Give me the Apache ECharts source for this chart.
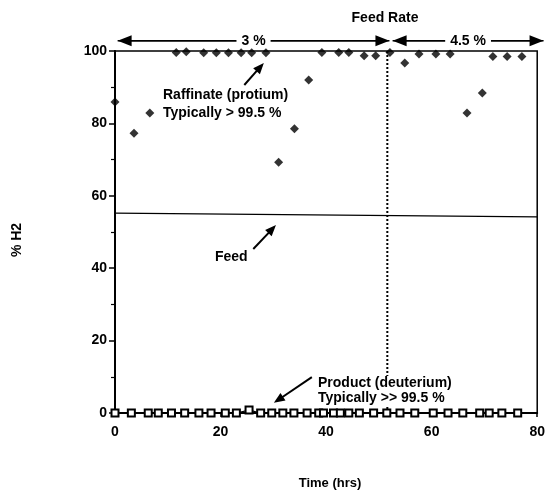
<!DOCTYPE html>
<html><head><meta charset="utf-8">
<script src="https://cdn.jsdelivr.net/npm/echarts@6/dist/echarts.min.js"></script>
<style>html,body{margin:0;padding:0;background:#fff}#c{width:548px;height:490px}</style>
</head><body><div id="c"></div>
<script>
// ---- data ----
const xTicks = [0, 20, 40, 60, 80];
const yTicks = [0, 20, 40, 60, 80, 100];
const raffinateTime = [0, 3.6, 6.6, 11.6, 13.5, 16.8, 19.2, 21.5, 23.9, 25.9, 28.6, 31.0, 34.0, 36.7, 39.2, 42.4, 44.3, 47.2, 49.4, 52.1, 54.9, 57.6, 60.8, 63.5, 66.7, 69.6, 71.6, 74.3, 77.1];
const raffinateH2   = [85.9, 77.3, 82.9, 99.6, 99.8, 99.5, 99.5, 99.5, 99.5, 99.5, 99.5, 69.3, 78.5, 92.0, 99.6, 99.6, 99.6, 98.7, 98.7, 99.6, 96.7, 99.2, 99.2, 99.2, 82.9, 88.4, 98.5, 98.5, 98.5];
const productTime = [0, 3.1, 6.3, 8.2, 10.7, 13.2, 15.9, 18.2, 20.9, 23.0, 25.4, 27.6, 29.7, 31.8, 33.9, 36.4, 38.6, 39.5, 41.4, 42.7, 44.3, 46.3, 49.0, 51.5, 54.0, 56.8, 60.3, 63.1, 65.9, 69.1, 70.9, 73.3, 76.3];
const productH2   = [0, 0, 0, 0, 0, 0, 0, 0, 0, 0, 0.8, 0, 0, 0, 0, 0, 0, 0, 0, 0, 0, 0, 0, 0, 0, 0, 0, 0, 0, 0, 0, 0, 0];
const feedTime = [0, 80];
const feedH2 = [55.2, 54.2];
const rateChangeTime = 51.6;
const rateLabels = ['3 %', '4.5 %'];

// ---- chart ----
const FONT = '"Liberation Sans", Arial, sans-serif';
const zip = (a, b) => a.map((v, i) => [v, b[i]]);
const chart = echarts.init(document.getElementById('c'), null, {renderer: 'canvas'});
chart.setOption({
  animation: false,
  backgroundColor: '#fff',
  grid: {left: 115, right: 8, top: 51, bottom: 77, show: true, borderColor: '#000', borderWidth: 1.5, backgroundColor: 'transparent'},
  xAxis: {
    type: 'value', min: 0, max: 80, interval: 20,
    axisLine: {show: true, lineStyle: {color: '#000', width: 2}},
    axisTick: {show: true, length: 4, lineStyle: {color: '#000', width: 1.5}},
    splitLine: {show: false},
    axisLabel: {color: '#000', fontFamily: FONT, fontWeight: 'bold', fontSize: 14, margin: 12,
      formatter: v => xTicks.includes(v) ? String(v) : ''}
  },
  yAxis: {
    type: 'value', min: 0, max: 100, interval: 20,
    axisLine: {show: true, lineStyle: {color: '#000', width: 2}},
    axisTick: {show: true, length: 6, lineStyle: {color: '#000', width: 1.5}},
    minorTick: {show: true, splitNumber: 2, length: 4, lineStyle: {color: '#000', width: 1.2}},
    splitLine: {show: false},
    axisLabel: {color: '#000', fontFamily: FONT, fontWeight: 'bold', fontSize: 14, margin: 8,
      formatter: v => yTicks.includes(v) ? String(v) : ''}
  },
  series: [
    {type: 'line', data: zip(feedTime, feedH2), symbol: 'none', clip: false, lineStyle: {color: '#000', width: 1.3}, z: 2},
    {type: 'line', data: [[rateChangeTime, 0], [rateChangeTime, 100]], symbol: 'none', clip: false,
      lineStyle: {color: '#000', width: 2, type: [2, 2]}, z: 2},
    {type: 'line', data: zip(productTime, productH2), symbol: 'emptyRect', symbolSize: 7, showAllSymbol: true, clip: false,
      itemStyle: {color: '#000', borderWidth: 1.4},
      lineStyle: {color: '#000', width: 1.2}, z: 5},
    {type: 'scatter', data: zip(raffinateTime, raffinateH2), symbol: 'diamond', symbolSize: 9, clip: false,
      itemStyle: {color: '#000'}, z: 6}
  ]
});

// ---- annotations (anchored in data space) ----
const annotArrows = [
  {from: [24.5, 90.6], to: [28.2, 96.7]},
  {from: [26.2, 45.3], to: [30.5, 51.9]},
  {from: [37.3, 9.9], to: [30.1, 2.8]}
];
const rateArrows = [
  {from: [0.5, 102.8], to: [52.0, 102.8], label: rateLabels[0]},
  {from: [52.6, 102.8], to: [81.2, 102.8], label: rateLabels[1]}
];
const px = p => chart.convertToPixel({xAxisIndex: 0, yAxisIndex: 0}, p);
function arrowEls(p0, p1, hl, hw, lw) {
  const dx = p1[0] - p0[0], dy = p1[1] - p0[1], L = Math.hypot(dx, dy), ux = dx / L, uy = dy / L;
  const bx = p1[0] - ux * hl, by = p1[1] - uy * hl;
  return [
    {type: 'line', shape: {x1: p0[0], y1: p0[1], x2: bx + ux * 1, y2: by + uy * 1}, style: {stroke: '#000', lineWidth: lw}},
    {type: 'polygon', shape: {points: [p1, [bx - uy * hw / 2, by + ux * hw / 2], [bx + uy * hw / 2, by - ux * hw / 2]]}, style: {fill: '#000'}}
  ];
}
const g = [];
annotArrows.forEach(a => g.push(...arrowEls(px(a.from), px(a.to), 11, 9, 2)));
rateArrows.forEach(a => {
  const p0 = px(a.from), p1 = px(a.to);
  g.push(...arrowEls(p1, p0, 14, 11, 1.5));
  g.push(...arrowEls(p0, p1, 14, 11, 1.5));
  g.push({type: 'text', x: (p0[0] + p1[0]) / 2, y: p0[1], z: 10,
    style: {text: a.label, font: 'bold 14px ' + FONT, fill: '#000', align: 'center', verticalAlign: 'middle',
      backgroundColor: '#fff', padding: [0, 5]}});
});
const txt = (x, y, s, bg) => ({type: 'text', x, y, z: 10,
  style: {text: s, font: 'bold 14px ' + FONT, fill: '#000', verticalAlign: 'middle', backgroundColor: bg || null, padding: bg ? [0, 1] : 0}});
g.push({type: 'text', x: 385, y: 18, style: {text: 'Feed Rate', font: 'bold 14px ' + FONT, fill: '#000', align: 'center', verticalAlign: 'middle'}});
g.push(txt(163, 95, 'Raffinate (protium)'));
g.push(txt(163, 113, 'Typically > 99.5 %'));
g.push(txt(215, 257, 'Feed'));
g.push(txt(317, 383, 'Product (deuterium)', '#fff'));
g.push(txt(317, 398, 'Typically >> 99.5 %', '#fff'));
g.push({type: 'text', x: 330, y: 483, style: {text: 'Time (hrs)', font: 'bold 13px ' + FONT, fill: '#000', align: 'center', verticalAlign: 'middle'}});
g.push({type: 'text', x: 17, y: 240, rotation: Math.PI / 2, style: {text: '% H2', font: 'bold 14px ' + FONT, fill: '#000', align: 'center', verticalAlign: 'middle'}});
chart.setOption({graphic: g});
</script>
</body></html>
